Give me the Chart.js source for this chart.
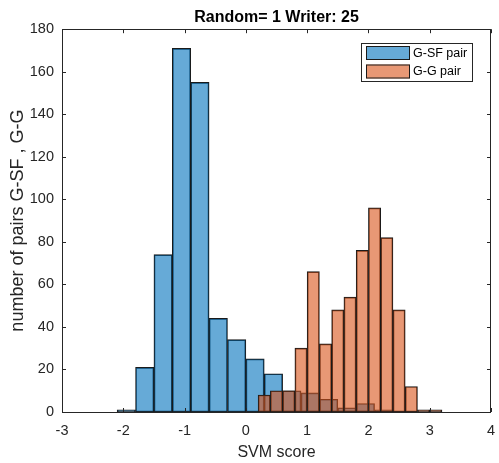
<!DOCTYPE html>
<html>
<head>
<meta charset="utf-8">
<script src="https://cdn.jsdelivr.net/npm/chart.js@4"></script>
<style>
  html, body { margin: 0; padding: 0; background: #fff; }
</style>
</head>
<body>
<canvas id="histo" width="499" height="463"></canvas>
<script>
// data
const chartTitle = 'Random= 1 Writer: 25';
const seriesNames = ['G-SF pair', 'G-G pair'];

// G-SF pair: bins of 0.3
const gsfEdges = [-2.1, -1.8, -1.5, -1.2, -0.9, -0.6, -0.3, 0, 0.3, 0.6, 0.9, 1.2, 1.5, 1.8, 2.1, 2.4];
const gsfCounts = [1, 21, 74, 171, 155, 44, 34, 25, 18, 10, 9, 6, 2, 4, 1];

// G-G pair: bins of 0.2
const ggEdges = [0.2, 0.4, 0.6, 0.8, 1.0, 1.2, 1.4, 1.6, 1.8, 2.0, 2.2, 2.4, 2.6, 2.8, 3.0, 3.2];
const ggCounts = [8, 10, 10, 30, 66, 32, 48, 54, 76, 96, 82, 48, 12, 1, 1];

const xMin = -3, xMax = 4, xStep = 1;
const yMin = 0, yMax = 180, yStep = 20;

const axisColor = '#262626';
const fontFamily = "'Liberation Sans', Arial, Helvetica, sans-serif";

function toBins(edges, counts) {
  var pts = [];
  for (var i = 0; i < counts.length; i++) {
    pts.push({ x: (edges[i] + edges[i + 1]) / 2, y: counts[i] });
  }
  return pts;
}

// MATLAB-like box with inward ticks
const framePlugin = {
  id: 'frame',
  afterDatasetsDraw(chart) {
    const ctx = chart.ctx;
    const a = chart.chartArea;
    const x = chart.scales.x, y = chart.scales.y;
    const tl = 4;
    ctx.save();
    ctx.strokeStyle = axisColor;
    ctx.lineWidth = 1;
    ctx.beginPath();
    ctx.rect(Math.round(a.left) + 0.5, Math.round(a.top) + 0.5,
      Math.round(a.right - a.left) - 1, Math.round(a.bottom - a.top));
    x.ticks.forEach(t => {
      const px = Math.round(x.getPixelForValue(t.value)) + 0.5;
      ctx.moveTo(px, a.bottom); ctx.lineTo(px, a.bottom - tl);
      ctx.moveTo(px, a.top); ctx.lineTo(px, a.top + tl);
    });
    y.ticks.forEach(t => {
      const py = Math.round(y.getPixelForValue(t.value)) + 0.5;
      ctx.moveTo(a.left, py); ctx.lineTo(a.left + tl, py);
      ctx.moveTo(a.right, py); ctx.lineTo(a.right - tl, py);
    });
    ctx.stroke();
    ctx.restore();
  }
};

// legend box in the upper right of the plot
const boxLegend = {
  id: 'boxLegend',
  afterDraw(chart) {
    const ctx = chart.ctx;
    const a = chart.chartArea;
    const w = 111, h = 38;
    const left = Math.round(a.right - 19 - w), top = Math.round(a.top + 14);
    ctx.save();
    ctx.fillStyle = '#fff';
    ctx.fillRect(left, top, w, h);
    ctx.strokeStyle = axisColor;
    ctx.lineWidth = 1;
    ctx.strokeRect(left + 0.5, top + 0.5, w, h);
    ctx.font = '12.5px ' + fontFamily;
    ctx.textBaseline = 'middle';
    chart.data.datasets.forEach((ds, i) => {
      const sy = top + 3 + i * 18.5;
      ctx.fillStyle = '#fff';
      ctx.fillRect(left + 5, sy, 44, 14);
      ctx.fillStyle = ds.backgroundColor;
      ctx.fillRect(left + 5, sy, 44, 14);
      ctx.strokeStyle = '#1a1a1a';
      ctx.strokeRect(left + 5.5, sy + 0.5, 43, 13);
      ctx.fillStyle = '#000';
      ctx.fillText(ds.label, left + 52, sy + 7.5);
    });
    ctx.restore();
  }
};

var graph = new Chart(
  document.getElementById('histo'),
  {
    type: 'bar',
    data: {
      datasets: [
        {
          label: seriesNames[0],
          data: toBins(gsfEdges, gsfCounts),
          xAxisID: 'x',
          backgroundColor: 'rgba(0, 114, 189, 0.6)',
          borderColor: '#1a1a1a',
          borderWidth: 1,
          borderSkipped: false,
          order: 2
        },
        {
          label: seriesNames[1],
          data: toBins(ggEdges, ggCounts),
          xAxisID: 'x2',
          backgroundColor: 'rgba(217, 83, 25, 0.6)',
          borderColor: '#1a1a1a',
          borderWidth: 1,
          borderSkipped: false,
          order: 1
        }
      ]
    },
    options: {
      responsive: false,
      animation: false,
      events: [],
      layout: { padding: { left: 0, right: 8, top: 0, bottom: 0 } },
      datasets: {
        bar: { grouped: false, barPercentage: 1, categoryPercentage: 1 }
      },
      scales: {
        x: {
          type: 'linear',
          position: 'bottom',
          offset: false,
          min: xMin, max: xMax,
          grid: { display: false, drawTicks: false, offset: false },
          border: { display: false },
          ticks: { stepSize: xStep, padding: 10, color: axisColor, font: { family: fontFamily, size: 14.5 } },
          title: { display: true, text: 'SVM score', color: axisColor,
            font: { family: fontFamily, size: 16 }, padding: { top: 0, bottom: 1 } },
          afterFit: s => { s.height = 51; s.paddingLeft = 0; s.paddingRight = 0; }
        },
        x2: {
          type: 'linear',
          position: 'bottom',
          offset: false,
          min: xMin, max: xMax,
          display: false,
          grid: { offset: false },
          ticks: { stepSize: xStep }
        },
        y: {
          min: yMin, max: yMax,
          grid: { display: false, drawTicks: false },
          border: { display: false },
          ticks: { stepSize: yStep, padding: 8, color: axisColor, font: { family: fontFamily, size: 14.5 } },
          title: { display: true, text: 'number of pairs G-SF , G-G', color: axisColor,
            font: { family: fontFamily, size: 18 }, padding: { top: 7, bottom: 0 } },
          afterFit: s => { s.width = 62; s.paddingTop = 0; s.paddingBottom = 0; }
        }
      },
      plugins: {
        legend: { display: false },
        tooltip: { enabled: false },
        title: {
          display: true,
          text: chartTitle,
          fullSize: false,
          color: '#000',
          font: { family: fontFamily, size: 16, weight: 'bold' },
          padding: { top: 8, bottom: 2 }
        }
      }
    },
    plugins: [framePlugin, boxLegend]
  });
</script>
</body>
</html>
